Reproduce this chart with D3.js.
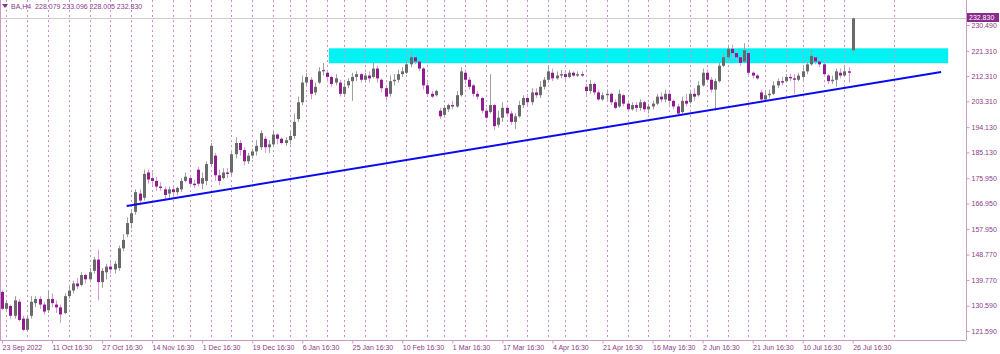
<!DOCTYPE html>
<html>
<head>
<meta charset="utf-8">
<script src="https://cdn.jsdelivr.net/npm/d3@7"></script>
<style>
body { margin: 0; background: #fff; }
svg { display: block; font-family: "Liberation Sans", Arial, sans-serif; }
</style>
</head>
<body>
<script>
const width = 1000;
const height = 354;

// daily bars, 23 Sep 2022 .. 26 Jul 2023
const opens = [135.5,129.5,130.5,127,132,126,122,127,131.5,133,
131,129,133,131,130,128,134,136,138.5,138,
141.5,140,143,147,139,142.5,144.5,143.5,144,151,
156,160,164,170.5,169,178,176,175,173,172,
170.5,172,171,172,175,176,174,179,174,175,
181,184,177,176,178,178,184.5,188.5,186,182,
184,185.5,187,190,187,188,191.5,190,188.5,189.5,
191,197,203,210,211,206.5,210,214,213.5,212,
210,210,206,209,210.5,212,213,211,212.5,212,
215,211,208,206,210.5,211,213,213.5,216.5,219,
217.5,215,209,206,205.5,200,198.5,200.5,202,201.5,
205.5,213.5,211,209,206,204.5,200,199.5,202,195,
197.5,201,199,196,198,202,204.5,203,206.5,205.5,
208.5,211,213.5,211.5,212.5,213,212,213.5,212.5,213,
208.5,207,209.5,206.5,204,205.5,206,203,201.5,205.5,
202.5,200.5,202,201,203,200.5,201.5,202.5,205,204,
206,203.5,201.5,199.5,203.5,203,206,205.5,209,213.5,
211,207.5,210.5,216,219,222,220.5,219,217.5,220.5,
213.5,212.5,206.5,204,205.5,206,209,210.5,210.5,212,
211.5,211,212,214,216.5,219,217.5,216.5,212.5,210.5,
211,213.5,212.5,214,221.5];
const highs = [136,132.5,131,134,133,127,127,134,134,134,
132,136,135,132.5,131,135,137.5,139.5,140.5,142.5,
142,144,148,150.5,144,145.5,146,146.5,152,156,
162,165,172,172,179,179,178,176.5,174.5,173,
173,173.5,173,176,178,176.5,175.5,180,178,182,
188.5,185,179,179.5,179.5,185.5,190.5,189.5,187,185,
186.5,189.5,193,191,189.5,192.5,192,190.5,190.5,192.5,
199,205,212.5,213.5,212,210,215.5,217,214,212.5,
213,211,210,211.5,213.5,214,213.5,213.5,214,217,
216,211.5,208.5,212.5,213,214.5,215.5,218,221,219.5,
218,215.5,210,207,207.5,201,202,202.5,203.5,207,
215.5,214,212,209.5,207,205,201,213,202.5,200,
203,202,200,199,203.5,205.5,206,208,208,210.5,
212,216,215,214,214.5,214,214.5,214,214,214,
209.5,211,210,207.5,206.5,207.5,206.5,204,207.5,206,
203.5,203,203,204,203.5,202.5,203.5,206,206.5,207.5,
206.5,204,202.5,205,206,207.5,208,210.5,215,214,
212,211.5,217,220.5,223.5,223.5,221.5,219.5,224,221,
214,213,207.5,207,207.5,210.5,211.5,212,213,213,
213,213.5,215.5,217.5,221.5,219.5,218.5,217,213,212.5,
215,215,215.5,215.5,233.1];
const lows = [129,128.5,126,126,125,121.5,121.5,126,130,129.5,
127.5,128,130,128,124.5,127.5,133,135,136.5,137.5,
138.5,139.5,142,132.5,137,140,142,142,143,150,
155,158,163,167,168,174,173.5,171.5,171.5,168,
169,170,170,171,174.5,173,172.5,173,172,173.5,
180,175,173.5,175.5,176,177,183,184,180.5,181,
183,184,186,185,185,187,188,188,187.5,188,
190,196,202,209,204,205.5,209.5,212.5,210.5,208.5,
209,205,205.5,208,203.5,210.5,210,210,210,211.5,
210,206.5,203,205,209,210,212,213,215.5,216.5,
214,207.5,205,204.5,205,197,197.5,199.5,200.5,201,
205,209.5,207.5,205,204,199,197,199,193,194,
196,198,195,193.5,197.5,201,202,202,204.5,204.5,
207.5,210,210.5,211,211.5,211,211.5,212,212,212,
205.5,206,205.5,203.5,203.5,204,202,200.5,201,201.5,
199.5,200,199.5,200,199.5,199,200.5,202,203,203,
202,200.5,198,199,201.5,202.5,203.5,205,208.5,210,
206.5,200,210,215.5,218,218.5,217.5,216,217,212,
211.5,211,203.5,203,204.5,205.5,208,209,210,210.5,
206,210.5,211,213,216,216.5,215.5,212,209.5,209.5,
208.5,211.5,212,210,220.5];
const closes = [129.5,131.5,127,132.5,125.5,122,126,132,133,131,
128.5,133,131.5,130,127.5,134,136,138.5,137.5,141.5,
140,142.5,147,139,143,144.5,143.5,145.5,151,154,
160,163.5,171,168,177.5,175.5,175,173,172.5,170,
172,171,172.5,175,176.5,174,173.5,174,176,181,
187.5,177,175,178,177.5,184.5,188.5,186,182,184,
185.5,187.5,192,187,188,191.5,190,188.5,189.5,191,
196,203,210,212,206,208.5,214,214.5,212,209.5,
211.5,206,208.5,210.5,212,213,211,212.5,211.5,215,
211.5,208,205,210.5,211,213,214,216.5,219,217.5,
215,209,206,205,207,198,201,202,201.5,205.5,
214,211,208.5,206,205,200,197.5,202,194.5,197.5,
201,199,196,198,202,204.5,203,206.5,205.5,208.5,
211,214,211.5,212.5,213,212,213.5,212.5,213,212.5,
207,209.5,206.5,204,205.5,206,203,201,206,202.5,
200.5,202,201,203,200.5,201.5,202.5,205,204,206,
203.5,201.5,199,203.5,202.5,206,205,209,213.5,211,
207.5,210.5,216,219,222,220.5,219,217,221.5,213.5,
212.5,211.5,204,205.5,206,209,210.5,210,212,211.5,
211,212.5,214,216.5,219.5,217.5,216.5,213,210.5,211,
214,212.5,214,213.5,232.83];

const timeTickBars = [0,12,24,36,48,60,72,84,96,108,120,132,144,156,168,180,192,204];
const timeTickLabels = ["23 Sep 2022","11 Oct 16:30","27 Oct 16:30","14 Nov 16:30","1 Dec 16:30",
  "19 Dec 16:30","6 Jan 16:30","25 Jan 16:30","10 Feb 16:30","1 Mar 16:30","17 Mar 16:30",
  "4 Apr 16:30","21 Apr 16:30","16 May 16:30","2 Jun 16:30","21 Jun 16:30","10 Jul 16:30","26 Jul 16:30"];
const priceTicks = [230.49,221.31,212.31,203.31,194.13,185.13,175.95,166.95,157.95,148.77,139.77,130.59,121.59];
// first bar of each week (period separators)
const weekStarts = [1,6,11,16,21,26,31,36,41,45,50,55,60,65,69,73,78,82,87,92,97,102,106,111,116,
  121,126,131,135,140,145,150,155,160,165,169,174,179,183,188,192,197,202,214];

const lastPrice = 232.83;
const header = "BA,H4  228.079 233.096 228.005 232.830";
const zoneBars = [78.4, 226.9];
const zonePrices = [216.9, 222.2];
const trendBars = [29.9, 225.2];
const trendPrices = [166.07, 213.76];

const plotRight = 966, plotBottom = 340;

const svg = d3.select('body').append('svg')
  .attr('width', width)
  .attr('height', height);

const x = d3.scaleLinear().domain([0, 204]).range([2, 852.7]);
const y = d3.scaleLinear().domain([121.59, 230.49]).range([331, 25]);

// support / resistance zone
svg.append('rect')
  .attr('x', x(zoneBars[0]))
  .attr('y', y(zonePrices[1]))
  .attr('width', x(zoneBars[1]) - x(zoneBars[0]))
  .attr('height', y(zonePrices[0]) - y(zonePrices[1]))
  .attr('fill', '#00f2f2');

// period separators
svg.append('g').selectAll('line')
  .data(weekStarts)
  .enter().append('line')
  .attr('x1', d => Math.round(x(d)) + 0.5)
  .attr('x2', d => Math.round(x(d)) + 0.5)
  .attr('y1', 0)
  .attr('y2', plotBottom)
  .attr('stroke', '#d488d4')
  .attr('stroke-dasharray', '2,3');

// bid line
svg.append('line')
  .attr('x1', 0).attr('x2', plotRight)
  .attr('y1', Math.round(y(lastPrice)) + 0.5)
  .attr('y2', Math.round(y(lastPrice)) + 0.5)
  .attr('stroke', '#cccccc');

// candles
const bars = d3.range(closes.length);
const cg = svg.append('g');
cg.selectAll('.wick')
  .data(bars)
  .enter().append('line')
  .attr('class', 'wick')
  .attr('x1', i => Math.round(x(i)) + 0.5)
  .attr('x2', i => Math.round(x(i)) + 0.5)
  .attr('y1', i => y(highs[i]))
  .attr('y2', i => y(lows[i]))
  .attr('stroke', i => closes[i] >= opens[i] ? '#a0a0a0' : '#d89ad8');
cg.selectAll('.body')
  .data(bars)
  .enter().append('rect')
  .attr('class', 'body')
  .attr('x', i => Math.round(x(i)) - 1)
  .attr('width', 3)
  .attr('y', i => y(Math.max(opens[i], closes[i])))
  .attr('height', i => Math.max(1, Math.abs(y(opens[i]) - y(closes[i]))))
  .attr('fill', i => closes[i] >= opens[i] ? '#6a6a6a' : '#8e1e8e');

// trend line
svg.append('line')
  .attr('x1', x(trendBars[0])).attr('y1', y(trendPrices[0]))
  .attr('x2', x(trendBars[1])).attr('y2', y(trendPrices[1]))
  .attr('stroke', '#0a0aee')
  .attr('stroke-width', 2);

// frame
svg.append('line').attr('x1', 0.5).attr('x2', 0.5).attr('y1', 0).attr('y2', plotBottom)
  .attr('stroke', '#c89ac8');

// price axis
const yAxis = svg.append('g')
  .attr('transform', `translate(${plotRight + 0.5},0)`)
  .call(d3.axisRight(y).tickValues(priceTicks).tickFormat(d3.format('.3f')).tickSize(3).tickPadding(2));
yAxis.select('.domain').attr('d', `M0,0V${plotBottom}`).attr('stroke', '#c89ac8');
yAxis.selectAll('.tick line').attr('stroke', '#c89ac8');
yAxis.selectAll('.tick text').attr('fill', '#8a3a8a').style('font-size', '7px');

// time axis
const xAxis = svg.append('g')
  .attr('transform', `translate(0,${plotBottom + 0.5})`)
  .call(d3.axisBottom(x).tickValues(timeTickBars).tickFormat((d, k) => timeTickLabels[k]).tickSize(3));
xAxis.select('.domain').attr('d', `M0,0H${plotRight}`).attr('stroke', '#c89ac8');
xAxis.selectAll('.tick line').attr('stroke', '#c89ac8');
xAxis.selectAll('.tick text')
  .attr('fill', '#8a3a8a')
  .attr('text-anchor', 'start')
  .attr('x', 0)
  .attr('y', 5)
  .style('font-size', '7px');

// current price tag
const tagY = Math.round(y(lastPrice));
svg.append('rect')
  .attr('x', plotRight + 1).attr('y', tagY - 5)
  .attr('width', 32).attr('height', 9)
  .attr('fill', '#8a2a8a');
svg.append('text')
  .attr('x', plotRight + 3).attr('y', tagY)
  .attr('dy', '0.32em')
  .attr('fill', '#fff')
  .style('font-size', '7px')
  .text(d3.format('.3f')(lastPrice));

// header
svg.append('path')
  .attr('d', 'M2,4H8L5,8Z')
  .attr('fill', '#8a3a8a');
svg.append('text')
  .attr('x', 11).attr('y', 9)
  .attr('fill', '#8a3a8a')
  .style('font-size', '7px')
  .style('white-space', 'pre')
  .text(header);
</script>
</body>
</html>
